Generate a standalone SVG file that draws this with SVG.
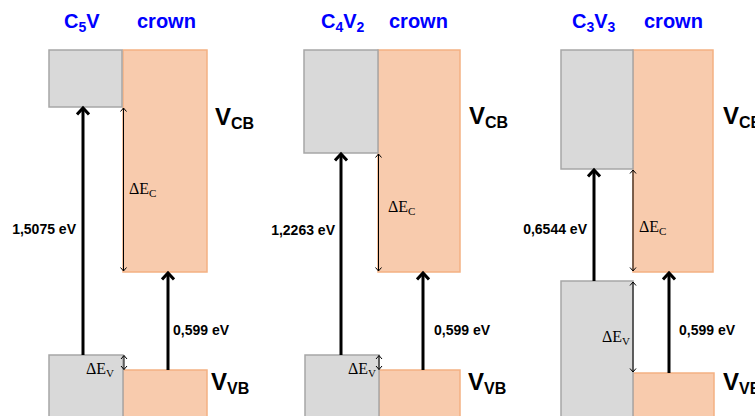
<svg xmlns="http://www.w3.org/2000/svg" width="755" height="416" viewBox="0 0 755 416">
<defs>
<marker id="hd" viewBox="0 0 14 14" markerWidth="14" markerHeight="14" markerUnits="userSpaceOnUse" refX="11" refY="7" orient="auto-start-reverse">
<path d="M4.5,1 L11,7 L4.5,13" fill="none" stroke="#000" stroke-width="3"/>
</marker>
<marker id="th" viewBox="0 0 8 8" markerWidth="8" markerHeight="8" markerUnits="userSpaceOnUse" refX="6" refY="4" orient="auto-start-reverse">
<path d="M2.5,1 L6,4 L2.5,7" fill="none" stroke="#000" stroke-width="1"/>
</marker>
</defs>
<style>
.gray{fill:#d9d9d9;stroke:#a6a6a6;stroke-width:1.5}
.or{fill:#f8cbad;stroke:#f4b183;stroke-width:1.5}
.title{font-family:"Liberation Sans",Arial,sans-serif;font-weight:bold;font-size:20px;fill:#0000ff}
.sub{font-size:14px}
.ev{font-family:"Liberation Sans",Arial,sans-serif;font-weight:bold;font-size:14px;fill:#000}
.de{font-family:"Liberation Serif","DejaVu Serif",serif;font-size:16px;fill:#000}
.des{font-size:11px}
.v{font-family:"Liberation Sans",Arial,sans-serif;font-weight:bold;font-size:24px;fill:#000}
.vs{font-size:16px}
.big{stroke:#000;stroke-width:3;fill:none;marker-end:url(#hd)}
.thin{stroke:#000;stroke-width:1;fill:none;marker-start:url(#th);marker-end:url(#th)}
</style>

<g id="titles">
<text class="title" x="64" y="28">C<tspan class="sub" dy="4">5</tspan><tspan dy="-4">V</tspan></text>
<text class="title" x="137" y="28">crown</text>
<text class="title" x="321" y="28">C<tspan class="sub" dy="4">4</tspan><tspan dy="-4">V</tspan><tspan class="sub" dy="4">2</tspan></text>
<text class="title" x="389" y="28">crown</text>
<text class="title" x="572" y="28">C<tspan class="sub" dy="4">3</tspan><tspan dy="-4">V</tspan><tspan class="sub" dy="4">3</tspan></text>
<text class="title" x="644" y="28">crown</text>
</g>

<!-- Panel 1 -->
<g id="p1-crown-cb"><rect class="or" x="123" y="50" width="84" height="222"/></g>
<g id="p1-c5v-cb"><rect class="gray" x="49" y="50" width="73" height="57"/></g>
<g id="p1-crown-vb"><rect class="or" x="123" y="370" width="84" height="50"/></g>
<g id="p1-c5v-vb"><rect class="gray" x="49" y="355" width="74" height="65"/></g>

<!-- Panel 2 -->
<g id="p2-crown-cb"><rect class="or" x="378" y="50" width="82" height="222"/></g>
<g id="p2-c4v2-cb"><rect class="gray" x="304" y="50" width="74" height="103"/></g>
<g id="p2-crown-vb"><rect class="or" x="379" y="370" width="81" height="50"/></g>
<g id="p2-c4v2-vb"><rect class="gray" x="305" y="355" width="74" height="65"/></g>

<!-- Panel 3 -->
<g id="p3-crown-cb"><rect class="or" x="633" y="50" width="80" height="222"/></g>
<g id="p3-c3v3-cb"><rect class="gray" x="561" y="50" width="72" height="119"/></g>
<g id="p3-crown-vb"><rect class="or" x="633" y="373" width="81" height="50"/></g>
<g id="p3-c3v3-vb"><rect class="gray" x="561" y="281" width="72" height="140"/></g>

<g id="connectors">
<line class="big" x1="83" y1="355" x2="83" y2="108"/>
<line class="big" x1="168" y1="370" x2="168" y2="273"/>
<line class="thin" x1="123.5" y1="108" x2="123.5" y2="271"/>
<line class="thin" x1="124" y1="355.5" x2="124" y2="369.5"/>

<line class="big" x1="341" y1="355" x2="341" y2="154"/>
<line class="big" x1="423" y1="370" x2="423" y2="273"/>
<line class="thin" x1="378.5" y1="154" x2="378.5" y2="271"/>
<line class="thin" x1="379" y1="355.5" x2="379" y2="369.5"/>

<line class="big" x1="594" y1="281" x2="594" y2="170"/>
<line class="big" x1="669" y1="373" x2="669" y2="273"/>
<line class="thin" x1="633" y1="170" x2="633" y2="271"/>
<line class="thin" x1="633" y1="282" x2="633" y2="372"/>
</g>

<g id="labels">
<text class="ev" x="76" y="234" text-anchor="end">1,5075 eV</text>
<text class="ev" x="173" y="335">0,599 eV</text>
<text class="de" x="129" y="194">ΔE<tspan class="des" dy="3">C</tspan></text>
<text class="de" x="86" y="374">ΔE<tspan class="des" dy="3">V</tspan></text>
<text class="v" x="215" y="125">V<tspan class="vs" dy="4">CB</tspan></text>
<text class="v" x="211" y="390">V<tspan class="vs" dy="4">VB</tspan></text>

<text class="ev" x="335" y="235" text-anchor="end">1,2263 eV</text>
<text class="ev" x="434" y="335">0,599 eV</text>
<text class="de" x="388" y="212">ΔE<tspan class="des" dy="3">C</tspan></text>
<text class="de" x="348" y="374">ΔE<tspan class="des" dy="3">V</tspan></text>
<text class="v" x="469" y="124">V<tspan class="vs" dy="4">CB</tspan></text>
<text class="v" x="468" y="390">V<tspan class="vs" dy="4">VB</tspan></text>

<text class="ev" x="587" y="234" text-anchor="end">0,6544 eV</text>
<text class="ev" x="679" y="335">0,599 eV</text>
<text class="de" x="639" y="232">ΔE<tspan class="des" dy="3">C</tspan></text>
<text class="de" x="602" y="342">ΔE<tspan class="des" dy="3">V</tspan></text>
<text class="v" x="723" y="124">V<tspan class="vs" dy="4">CB</tspan></text>
<text class="v" x="723" y="390">V<tspan class="vs" dy="4">VB</tspan></text>
</g>
</svg>
